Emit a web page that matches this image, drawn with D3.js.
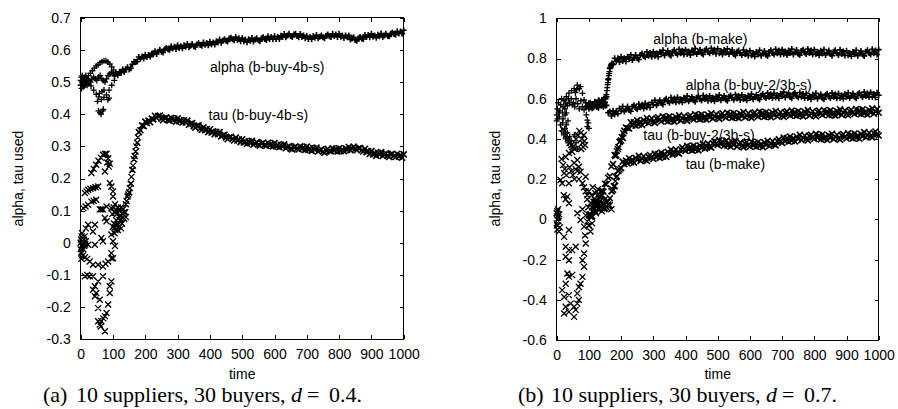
<!DOCTYPE html>
<html>
<head>
<meta charset="utf-8">
<script src="https://cdn.jsdelivr.net/npm/d3@7"></script>
<style>
  body { margin: 0; background: #fff; }
  text { font-family: "Liberation Sans", Arial, Helvetica, sans-serif; }
</style>
</head>
<body>
<svg width="898" height="409"></svg>
<script>
// ---- data ----
var xTicks = [0, 100, 200, 300, 400, 500, 600, 700, 800, 900, 1000];
var leftYTicks = [-0.3, -0.2, -0.1, 0, 0.1, 0.2, 0.3, 0.4, 0.5, 0.6, 0.7];
var rightYTicks = [-0.6, -0.4, -0.2, 0, 0.2, 0.4, 0.6, 0.8, 1];

// the dense part of every run is sampled every 5 time steps from t = 100
var bandTimes = d3.range(100, 1001, 5);

// (a) alpha (b-buy-4b-s), "+" marks
var leftAlpha = [
  .527,.519,.526,.521,.532,.529,.539,.531,.540,.546,.539,.543,.555,.563,.562,.564,.578,.572,.579,.573,
  .585,.578,.584,.579,.589,.586,.596,.587,.594,.600,.594,.592,.602,.606,.602,.600,.611,.604,.610,.603,
  .614,.606,.611,.605,.614,.610,.618,.608,.613,.618,.611,.609,.617,.621,.615,.613,.623,.616,.621,.614,
  .625,.617,.623,.617,.627,.623,.632,.622,.628,.633,.628,.626,.635,.638,.633,.630,.640,.631,.636,.627,
  .637,.627,.632,.624,.633,.628,.637,.626,.632,.636,.630,.627,.636,.639,.634,.631,.642,.634,.640,.633,
  .642,.634,.640,.634,.644,.640,.649,.639,.645,.650,.643,.640,.648,.650,.643,.639,.649,.640,.645,.636,
  .643,.634,.640,.633,.643,.638,.646,.636,.641,.645,.639,.636,.644,.648,.642,.640,.650,.643,.648,.640,
  .650,.641,.645,.637,.645,.639,.645,.632,.636,.639,.631,.628,.636,.640,.635,.634,.646,.640,.646,.639,
  .650,.641,.645,.638,.647,.642,.651,.640,.645,.650,.644,.642,.650,.654,.649,.647,.658,.651,.657,.650,.661
];
var leftAlphaEarly = [
  [0,.49],[0,.505],[2,.515],[3,.48],[4,.50],[5,.52],[6,.495],[8,.51],[9,.485],[10,.505],[12,.515],[13,.49],
  [15,.50],[16,.52],[18,.505],[20,.51],[20,.49],
  [24,.52],[30,.527],[36,.535],[42,.543],[48,.55],[54,.554],[60,.56],[66,.563],
  [72,.566],[78,.566],[84,.562],[90,.556],[96,.547],[102,.538],[108,.53],
  [25,.505],[30,.50],[35,.51],[40,.515],[45,.51],[50,.505],[55,.515],[60,.52],[65,.51],[70,.505],[75,.50],
  [80,.51],[85,.52],[90,.525],[95,.53],
  [25,.495],[32,.488],[40,.475],[48,.462],[56,.454],[64,.446],[72,.452],
  [80,.46],[88,.475],[96,.49],[104,.505],
  [52,.44],[58,.465],[66,.47],[72,.475],[84,.445],[88,.45],
  [55,.41],[60,.405],[63,.40],[68,.41],[70,.415]
];

// (a) tau (b-buy-4b-s), "x" marks
var leftTau = [
  .050,.046,.056,.056,.071,.073,.091,.095,.120,.144,.157,.184,.227,.260,.284,.311,.344,.350,.365,.363,
  .377,.372,.380,.375,.386,.384,.395,.388,.394,.396,.386,.381,.388,.390,.383,.380,.389,.381,.386,.377,
  .387,.378,.382,.374,.381,.374,.380,.367,.370,.372,.363,.358,.364,.365,.356,.351,.359,.350,.354,.344,
  .353,.343,.347,.338,.345,.338,.344,.331,.334,.336,.327,.322,.328,.330,.323,.318,.327,.318,.322,.313,
  .322,.312,.316,.308,.316,.310,.317,.305,.309,.313,.305,.302,.309,.312,.305,.302,.311,.303,.308,.300,
  .310,.300,.305,.297,.305,.299,.306,.294,.298,.301,.293,.290,.297,.300,.294,.290,.300,.292,.297,.289,
  .299,.289,.294,.286,.295,.289,.296,.284,.288,.291,.283,.280,.288,.292,.286,.284,.294,.286,.292,.284,
  .294,.285,.291,.285,.294,.289,.298,.288,.294,.299,.292,.288,.294,.295,.288,.284,.292,.282,.285,.276,
  .285,.275,.279,.271,.280,.274,.282,.270,.275,.278,.271,.267,.275,.277,.271,.267,.277,.268,.273,.265,.275
];
var leftTauEarly = [
  [0,0],[0,-.02],[1,.01],[2,-.03],[3,.02],[4,-.01],[5,.005],[6,-.005],[7,.015],[8,-.02],[9,0],[10,.01],
  [11,-.01],[12,.02],[14,-.005],[16,.005],[2,-.05],[4,.03],[6,-.04],
  [33,.217],[40,.23],[48,.243],[55,.255],[62,.265],[69,.274],[75,.276],[80,.277],[85,.262],[90,.246],
  [87,.237],[75,.222],[82,.25],
  [13,.155],[18,.16],[23,.165],[30,.168],[38,.17],[46,.173],[54,.175],[90,.186],[100,.16],[100,.144],[95,.175],
  [8,.108],[15,.113],[23,.118],[33,.128],[40,.131],[48,.134],[59,.104],[64,.104],[69,.104],[80,.113],[95,.108],
  [106,.093],[75,.077],[80,.067],
  [23,.056],[44,.056],[38,.035],[16,.045],[64,.015],[69,.005],[95,.026],[100,.005],[106,-.01],[44,-.006],
  [23,-.006],[95,-.032],[100,-.048],
  [2,-.032],[13,-.045],[20,-.05],[28,-.058],[38,-.068],[54,-.068],[69,-.074],[85,-.058],[95,-.048],[77,-.065],
  [13,-.104],[20,-.1],[28,-.104],[38,-.104],[54,-.12],[69,-.104],[95,-.12],[90,-.135],[90,-.156],
  [44,-.135],[38,-.146],[48,-.156],[44,-.166],[59,-.177],[85,-.192],[80,-.218],[75,-.228],[54,-.203],
  [64,-.244],[59,-.254],[54,-.244],[75,-.275],[62,-.26],[70,-.235],
  [105,.03],[110,.07],[112,.09],[115,.04],[118,.1],[120,.05],[122,.085],[125,.11],[128,.06],[130,.09],
  [132,.105],[135,.075],[138,.095],[140,.08],[110,.10],[115,.11],[125,.045],[108,.04],[103,.06],[98,.09],
  [102,.11],[106,.12],
  [142,.13],[147,.15],[152,.17],[157,.205],[162,.24],[167,.27],[172,.30],[177,.328]
];

// (b) alpha (b-make), "+" marks
var rightAlphaMake = [
  .577,.558,.572,.557,.582,.571,.593,.568,.583,.596,.582,.610,.695,.752,.768,.770,.801,.785,.801,.783,
  .809,.788,.801,.785,.809,.797,.818,.792,.806,.817,.801,.795,.817,.825,.813,.806,.833,.814,.828,.809,
  .834,.813,.826,.809,.833,.821,.841,.815,.827,.838,.820,.814,.834,.842,.828,.820,.846,.826,.839,.820,
  .844,.822,.835,.818,.841,.829,.849,.822,.834,.844,.826,.820,.840,.847,.833,.826,.851,.831,.844,.824,
  .848,.826,.837,.820,.842,.829,.848,.821,.832,.842,.823,.815,.834,.840,.826,.817,.842,.821,.834,.814,
  .838,.816,.827,.810,.833,.820,.841,.814,.826,.837,.819,.813,.833,.841,.828,.820,.846,.826,.840,.820,
  .844,.823,.835,.818,.840,.827,.847,.820,.832,.842,.824,.817,.837,.844,.830,.822,.847,.827,.840,.820,
  .844,.822,.833,.816,.839,.825,.845,.818,.830,.840,.822,.814,.834,.841,.826,.818,.843,.822,.835,.815,
  .838,.816,.828,.811,.834,.821,.841,.814,.827,.837,.820,.813,.834,.841,.828,.820,.846,.826,.840,.820,.844
];
// (b) alpha (b-buy-2/3b-s), "+" marks
var rightAlphaBuy = [
  .550,.575,.553,.565,.575,.560,.555,.580,.592,.583,.565,.567,.530,.536,.514,.540,.522,.538,.525,.551,
  .540,.561,.536,.549,.561,.544,.538,.560,.568,.555,.548,.574,.556,.570,.552,.577,.557,.571,.556,.581,
  .570,.592,.567,.581,.593,.577,.571,.592,.600,.587,.580,.606,.587,.601,.582,.607,.586,.598,.582,.605,
  .593,.613,.587,.599,.609,.592,.585,.605,.613,.599,.591,.616,.597,.610,.590,.614,.593,.605,.588,.611,
  .598,.618,.592,.604,.614,.596,.590,.610,.617,.603,.595,.621,.601,.614,.594,.619,.597,.609,.592,.616,
  .603,.623,.597,.609,.620,.602,.596,.616,.624,.610,.603,.628,.609,.622,.603,.627,.606,.618,.602,.625,
  .613,.633,.606,.618,.628,.609,.602,.622,.629,.614,.606,.631,.610,.623,.603,.626,.604,.615,.598,.620,
  .607,.627,.600,.612,.622,.604,.598,.618,.625,.611,.603,.628,.608,.622,.602,.626,.604,.616,.600,.623,
  .610,.630,.603,.616,.626,.608,.602,.622,.629,.616,.608,.633,.614,.627,.608,.632,.610,.623,.606,.630,.617
];
var rightAlphaEarly = [
  [0,.52],[2,.55],[5,.58],[8,.51],[10,.54],[12,.57],[15,.60],[18,.53],[20,.56],[22,.59],[25,.55],[28,.575],
  [30,.53],[33,.565],[36,.6],[40,.58],[45,.6],[48,.57],[0,.49],[3,.50],[6,.53],
  [23,.594],[30,.61],[38,.628],[46,.64],[54,.65],[62,.645],[64,.668],[70,.65],[74,.66],
  [80,.627],[85,.594],[90,.56],[58,.63],
  [95,.494],[95,.461],[100,.453],[92,.52],[98,.48],
  [52,.58],[56,.56],[60,.6],[65,.575],[70,.55],[75,.59],[80,.56],[85,.545],[90,.58],[95,.565],[100,.575],
  [12,.47],[15,.44],[18,.48],[22,.42],[25,.45],[28,.40],[30,.47],[33,.43],[36,.38],[40,.41],[45,.39],
  [50,.36],[55,.42],[60,.38],[65,.35],[20,.50],[26,.52],[35,.49],
  [104,.58],[112,.555],[118,.585],[124,.56],[132,.59],[140,.565],[148,.605],[145,.56],
  [152,.6],[153,.61],[154,.62],[156,.64],[157,.655],[158,.67],[159,.68],[161,.70],[162,.715],[163,.725],
  [164,.735],[166,.75],[167,.755],[168,.762],[169,.767],[171,.774],[172,.776]
];

// (b) tau (b-buy-2/3b-s), "x" marks
var rightTauBuy = [
  .022,.025,.060,.087,.088,.090,.125,.115,.143,.138,.177,.175,.207,.215,.263,.275,.320,.318,.350,.385,
  .392,.405,.440,.457,.453,.452,.483,.467,.483,.466,.492,.472,.486,.470,.494,.483,.504,.478,.492,.503,
  .487,.480,.501,.508,.495,.487,.513,.493,.507,.487,.512,.490,.503,.486,.510,.497,.518,.491,.504,.514,
  .497,.490,.511,.518,.505,.497,.523,.503,.517,.497,.522,.500,.513,.496,.520,.507,.528,.501,.514,.524,
  .507,.500,.520,.528,.514,.506,.531,.512,.525,.505,.529,.507,.520,.503,.526,.513,.534,.507,.519,.529,
  .512,.505,.525,.532,.519,.511,.536,.516,.530,.510,.534,.512,.525,.508,.531,.518,.539,.512,.524,.534,
  .517,.510,.530,.537,.524,.516,.541,.521,.534,.515,.539,.517,.529,.512,.536,.523,.543,.516,.528,.538,
  .520,.513,.534,.541,.527,.519,.544,.525,.538,.518,.542,.520,.533,.516,.539,.526,.547,.520,.532,.542,
  .524,.518,.538,.545,.532,.524,.549,.529,.543,.523,.547,.525,.538,.521,.544,.531,.552,.525,.537,.548,.530
];
// (b) tau (b-make), "x" marks
var rightTauMake = [
  -.030,.015,.015,.048,.038,.072,.055,.072,.055,.073,.055,.085,.073,.105,.140,.147,.165,.210,.242,.248,
  .255,.287,.275,.293,.278,.304,.285,.298,.282,.306,.295,.316,.290,.303,.314,.297,.291,.312,.320,.307,
  .300,.327,.309,.324,.306,.332,.312,.326,.311,.336,.325,.347,.322,.336,.348,.332,.327,.349,.358,.346,
  .340,.366,.347,.361,.342,.367,.346,.359,.343,.367,.355,.377,.352,.366,.378,.362,.357,.379,.388,.376,
  .370,.395,.374,.387,.366,.390,.367,.379,.361,.384,.370,.390,.362,.374,.383,.365,.358,.377,.384,.370,
  .362,.387,.367,.381,.361,.385,.364,.376,.359,.383,.370,.391,.365,.378,.390,.373,.368,.389,.398,.386,
  .380,.407,.389,.404,.386,.412,.391,.404,.388,.412,.400,.421,.394,.407,.417,.400,.393,.414,.421,.408,
  .400,.425,.405,.418,.398,.422,.400,.412,.395,.418,.405,.426,.399,.411,.421,.403,.396,.417,.424,.410,
  .402,.428,.408,.422,.402,.427,.405,.418,.401,.425,.413,.434,.408,.420,.431,.414,.408,.429,.437,.424,.417
];
var rightTauEarly = [
  [0,.03],[0,-.02],[1,0],[2,-.05],[3,.02],[4,-.03],[5,.01],[6,-.01],[8,.025],[10,-.04],[2,.04],[7,-.06],
  [1,-.03],[4,.05],
  [20,.45],[25,.44],[30,.42],[35,.40],[40,.38],[45,.37],[50,.36],[55,.35],[60,.40],[65,.42],[70,.44],
  [75,.43],[78,.40],[80,.38],[82,.36],[84,.42],[86,.39],[88,.37],[76,.35],
  [12,.196],[17,.18],[23,.23],[28,.31],[38,.33],[48,.336],[64,.295],[69,.262],[74,.237],[90,.212],[15,.3],
  [20,.27],[25,.25],[30,.22],[40,.26],[45,.24],[50,.22],[55,.2],[54,.28],[59,.25],[64,.24],[69,.2],[80,.18],
  [85,.16],[90,.14],[95,.12],
  [38,.18],[33,.113],[38,.08],[64,.03],[74,-.003],[85,-.036],[38,-.053],[22,.12],[28,.1],[80,.05],[90,.02],[95,-.01],
  [23,-.087],[28,-.136],[38,-.153],[48,-.153],[59,-.136],[28,-.186],[38,-.203],[80,-.203],[85,-.236],
  [80,-.286],[74,-.32],[69,-.336],[64,-.368],[69,-.401],[33,-.269],[38,-.285],[48,-.277],[17,-.352],
  [23,-.386],[38,-.377],[43,-.419],[54,-.435],[28,-.435],[23,-.468],[38,-.46],[54,-.485],[59,-.45],
  [64,-.419],[28,-.32],[85,-.17],[90,-.12],[88,-.08],
  [95,.10],[98,.06],[100,.14],[102,.02],[105,.08],[108,.12],[110,.04],[112,.16],[115,.06],[118,.10],
  [120,.13],[122,.03],[125,.08],[128,.15],[130,.05],[132,.11],[135,.09],[138,.14],[140,.04],[142,.12],
  [145,.08],[148,.05],[150,.10],[155,.06],[160,.09],[165,.07],[170,.05],[100,-.03],[105,-.06],[110,-.02],
  [182,.315],[187,.34],[192,.36],[197,.388],[202,.41],[207,.428],
  [172,.14],[177,.165],[182,.19],[187,.215],[192,.24]
];

// ---- drawing ----
var svg = d3.select("svg");

function band(values) {
  return values.map(function (v, i) { return [bandTimes[i], v]; });
}

// gnuplot style point marks, built as one path per series
function markPath(pts, x, y, kind) {
  var h = 3;
  return pts.map(function (p) {
    var cx = x(p[0]), cy = y(p[1]);
    if (kind === "plus")
      return "M" + (cx - h) + "," + cy + "H" + (cx + h) + "M" + cx + "," + (cy - h) + "V" + (cy + h);
    return "M" + (cx - h) + "," + (cy - h) + "L" + (cx + h) + "," + (cy + h) +
           "M" + (cx - h) + "," + (cy + h) + "L" + (cx + h) + "," + (cy - h);
  }).join("");
}

function styleAxis(g) {
  g.select(".domain").remove();
  g.attr("font-size", 14).attr("font-family", "'Liberation Sans', Arial, sans-serif");
  g.selectAll("line").attr("shape-rendering", "crispEdges");
}

function drawPanel(p) {
  var x = d3.scaleLinear().domain([0, 1000]).range([p.left, p.right]);
  var y = d3.scaleLinear().domain(p.yDomain).range([p.bottom, p.top]);
  var yFmt = function (d) { return String(d); };
  var g = svg.append("g");

  g.append("g").attr("transform", "translate(0," + p.bottom + ")")
    .call(d3.axisBottom(x).tickValues(xTicks).tickFormat(d3.format("d"))
      .tickSizeInner(-4).tickSizeOuter(0).tickPadding(10))
    .call(styleAxis);
  g.append("g").attr("transform", "translate(0," + p.top + ")")
    .call(d3.axisTop(x).tickValues(xTicks).tickFormat("").tickSizeInner(-4).tickSizeOuter(0))
    .call(styleAxis);
  g.append("g").attr("transform", "translate(" + p.left + ",0)")
    .call(d3.axisLeft(y).tickValues(p.yTicks).tickFormat(yFmt)
      .tickSizeInner(-4).tickSizeOuter(0).tickPadding(10))
    .call(styleAxis);
  g.append("g").attr("transform", "translate(" + p.right + ",0)")
    .call(d3.axisRight(y).tickValues(p.yTicks).tickFormat("").tickSizeInner(-4).tickSizeOuter(0))
    .call(styleAxis);

  g.append("rect")
    .attr("x", p.left).attr("y", p.top)
    .attr("width", p.right - p.left).attr("height", p.bottom - p.top)
    .attr("fill", "none").attr("stroke", "#000").attr("shape-rendering", "crispEdges");

  // scattered early points first, then the dense runs a little bolder
  p.series.forEach(function (s) {
    g.append("path")
      .attr("d", markPath(s.early, x, y, s.kind))
      .attr("fill", "none").attr("stroke", "#000").attr("stroke-width", 1.3);
    g.append("path")
      .attr("d", markPath(s.bands, x, y, s.kind))
      .attr("fill", "none").attr("stroke", "#000").attr("stroke-width", 1.6);
  });

  p.labels.forEach(function (l) {
    g.append("text").attr("x", l[0]).attr("y", l[1])
      .attr("font-size", 14).text(l[2]);
  });

  g.append("text")
    .attr("transform", "translate(" + p.yLabelX + ",178.5) rotate(-90)")
    .attr("text-anchor", "middle").attr("font-size", 14)
    .text("alpha, tau used");
  g.append("text")
    .attr("x", (p.left + p.right) / 2).attr("y", 379)
    .attr("text-anchor", "middle").attr("font-size", 14)
    .text("time");

  // caption
  var cap = g.append("text").attr("y", 402)
    .style("font-family", "'Liberation Serif', 'Times New Roman', serif")
    .attr("font-size", 22);
  cap.append("tspan").attr("x", p.capX).text(p.capTag);
  cap.append("tspan").attr("x", p.capX + 33).text("10 suppliers, 30 buyers, ");
  cap.append("tspan").style("font-style", "italic").text("d");
  cap.append("tspan").attr("x", p.capX + 264).text("=");
  cap.append("tspan").attr("x", p.capX + 286).text(p.capD + ".");
}

drawPanel({
  left: 80.7, right: 403.7, top: 17.7, bottom: 339.3,
  yDomain: [-0.3, 0.7], yTicks: leftYTicks, yLabelX: 23,
  series: [
    { kind: "plus", early: leftAlphaEarly, bands: band(leftAlpha) },
    { kind: "x", early: leftTauEarly, bands: band(leftTau) }
  ],
  labels: [[210, 71.5, "alpha (b-buy-4b-s)"], [208.5, 120, "tau (b-buy-4b-s)"]],
  capX: 43, capTag: "(a)", capD: "0.4"
});

drawPanel({
  left: 556.7, right: 878.7, top: 18.3, bottom: 340,
  yDomain: [-0.6, 1], yTicks: rightYTicks, yLabelX: 500,
  series: [
    { kind: "plus", early: rightAlphaEarly, bands: band(rightAlphaMake).concat(band(rightAlphaBuy)) },
    { kind: "x", early: rightTauEarly, bands: band(rightTauBuy).concat(band(rightTauMake)) }
  ],
  labels: [[653.3, 43.5, "alpha (b-make)"], [685.7, 90, "alpha (b-buy-2/3b-s)"],
           [643.3, 140, "tau (b-buy-2/3b-s)"], [685.7, 168.5, "tau (b-make)"]],
  capX: 518, capTag: "(b)", capD: "0.7"
});
</script>
</body>
</html>
